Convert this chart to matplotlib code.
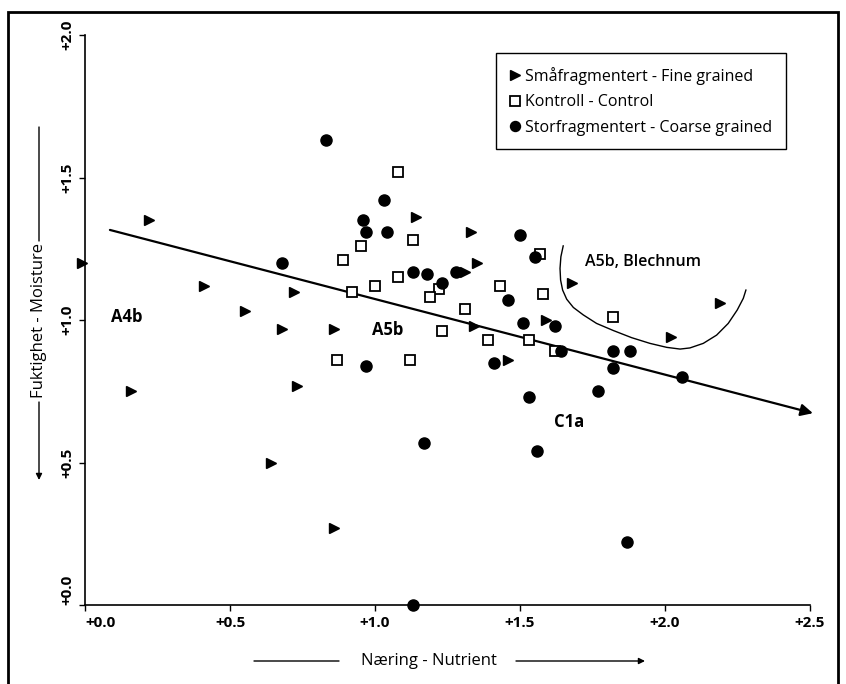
import matplotlib
matplotlib.use('Agg')
import matplotlib.pyplot as plt
from matplotlib.patches import Rectangle

plt.rcParams['font.family'] = ['Open Sans', 'DejaVu Sans']

# ---------------- data ----------------
fine_x = [-0.01, 0.22, 0.16, 0.41, 0.55, 0.64, 0.68, 0.72, 0.73, 0.86, 0.86,
          1.14, 1.33, 1.35, 1.31, 1.34, 1.46, 1.59, 1.68, 2.02, 2.19]
fine_y = [1.20, 1.35, 0.75, 1.12, 1.03, 0.50, 0.97, 1.10, 0.77, 0.97, 0.27,
          1.36, 1.31, 1.20, 1.17, 0.98, 0.86, 1.00, 1.13, 0.94, 1.06]

control_x = [0.95, 0.89, 1.00, 0.92, 0.87, 1.08, 1.13, 1.57, 1.08, 1.22,
             1.19, 1.43, 1.58, 1.31, 1.23, 1.39, 1.53, 1.12, 1.82, 1.62]
control_y = [1.26, 1.21, 1.12, 1.10, 0.86, 1.52, 1.28, 1.23, 1.15, 1.11,
             1.08, 1.12, 1.09, 1.04, 0.96, 0.93, 0.93, 0.86, 1.01, 0.89]

coarse_x = [0.83, 0.96, 0.97, 0.68, 0.97, 1.03, 1.04, 1.50, 1.55, 1.13,
            1.18, 1.28, 1.23, 1.46, 1.51, 1.41, 1.53, 1.62, 1.64, 1.82,
            1.88, 1.82, 2.06, 1.77, 1.56, 1.17, 1.87, 1.13]
coarse_y = [1.63, 1.35, 1.31, 1.20, 0.84, 1.42, 1.31, 1.30, 1.22, 1.17,
            1.16, 1.17, 1.13, 1.07, 0.99, 0.85, 0.73, 0.98, 0.89, 0.89,
            0.89, 0.83, 0.80, 0.75, 0.54, 0.57, 0.22, 0.00]

trend_x = [0.086, 2.51]
trend_y = [1.316, 0.673]

blechnum_x = [1.649, 1.641, 1.638, 1.640, 1.647, 1.661, 1.684, 1.718, 1.764,
              1.822, 1.885, 1.948, 2.006, 2.052, 2.086, 2.132, 2.178, 2.218,
              2.249, 2.270, 2.279]
blechnum_y = [1.260, 1.222, 1.181, 1.140, 1.105, 1.073, 1.044, 1.018, 0.988,
              0.963, 0.938, 0.918, 0.904, 0.898, 0.902, 0.918, 0.947, 0.988,
              1.035, 1.076, 1.105]

region_labels = ['A4b', 'A5b', 'A5b, Blechnum', 'C1a']
region_x = [0.143, 1.043, 1.924, 1.669]
region_y = [1.009, 0.965, 1.205, 0.643]

xticks = [0.0, 0.5, 1.0, 1.5, 2.0, 2.5]
xtick_labels = ['+0.0', '+0.5', '+1.0', '+1.5', '+2.0', '+2.5']
yticks = [0.0, 0.5, 1.0, 1.5, 2.0]
ytick_labels = ['+0.0', '+0.5', '+1.0', '+1.5', '+2.0']

legend_labels = ['Småfragmentert - Fine grained',
                 'Kontroll - Control',
                 'Storfragmentert - Coarse grained']
xlabel = 'Næring - Nutrient'
ylabel = 'Fuktighet - Moisture'

# ---------------- figure ----------------
W, H = 846, 684
fig = plt.figure(figsize=(W / 100, H / 100), dpi=100)
ax = fig.add_axes([85 / W, 1 - 605 / H, 725 / W, 570 / H])
ax.set_xlim(0, 2.5)
ax.set_ylim(0, 2.0)

for s in ['top', 'right']:
    ax.spines[s].set_visible(False)
for s in ['left', 'bottom']:
    ax.spines[s].set_linewidth(1.2)

ax.set_xticks(xticks)
ax.set_xticklabels(xtick_labels, fontsize=11, fontweight='bold')
ax.set_yticks(yticks)
ax.set_yticklabels(ytick_labels, fontsize=11, fontweight='bold',
                   rotation=90, va='center')
ax.tick_params(direction='out', length=4, width=1.0, pad=4)
ax.get_xticklabels()[0].set_ha('left')
ax.get_yticklabels()[0].set_va('bottom')

# trend arrow
ax.annotate('', xy=(trend_x[1], trend_y[1]), xytext=(trend_x[0], trend_y[0]),
            arrowprops=dict(arrowstyle='-|>', lw=1.6, color='black',
                            mutation_scale=18, shrinkA=0, shrinkB=0),
            annotation_clip=False, zorder=2)

# blechnum region curve
ax.plot(blechnum_x, blechnum_y, color='black', lw=1.0, zorder=2)

h1, = ax.plot(fine_x, fine_y, linestyle='none', marker='>', ms=7.5,
              color='black', clip_on=False, zorder=4)
h2, = ax.plot(control_x, control_y, linestyle='none', marker='s', ms=7.5,
              mfc='white', mec='black', mew=1.3, clip_on=False, zorder=3)
h3, = ax.plot(coarse_x, coarse_y, linestyle='none', marker='o', ms=8,
              color='black', clip_on=False, zorder=4)

for lab, x, y in zip(region_labels, region_x, region_y):
    ax.text(x, y, lab, fontsize=12 if lab != 'A5b, Blechnum' else 11.5,
            fontweight='bold' if lab != 'A5b, Blechnum' else 'semibold',
            ha='center', va='center', zorder=5)

leg = ax.legend([h1, h2, h3], legend_labels, loc='upper right',
                bbox_to_anchor=(786 / W, 1 - 53 / H),
                bbox_transform=fig.transFigure,
                fontsize=11.5, frameon=True, fancybox=False, framealpha=1,
                edgecolor='black', borderpad=0.85, handlelength=0.7,
                handletextpad=0.3, labelspacing=0.6, borderaxespad=0,
                markerscale=0.9)
leg.get_frame().set_linewidth(1.0)


def fp(x, y):
    return (x, H - y)


# y label with lines and arrow
fig.text(39 / W, 1 - 321 / H, ylabel, rotation=90, ha='center', va='center',
         fontsize=12)
ax.annotate('', xy=fp(39, 127), xytext=fp(39, 241), xycoords='figure pixels',
            textcoords='figure pixels',
            arrowprops=dict(arrowstyle='-', lw=1.0, color='black',
                            shrinkA=0, shrinkB=0), annotation_clip=False)
ax.annotate('', xy=fp(39, 480), xytext=fp(39, 402), xycoords='figure pixels',
            textcoords='figure pixels',
            arrowprops=dict(arrowstyle='-|>', lw=1.0, color='black',
                            mutation_scale=9, shrinkA=0, shrinkB=0),
            annotation_clip=False)

# x label with lines and arrow
fig.text(429 / W, 1 - 661 / H, xlabel, ha='center', va='center', fontsize=12)
ax.annotate('', xy=fp(254, 661), xytext=fp(339, 661), xycoords='figure pixels',
            textcoords='figure pixels',
            arrowprops=dict(arrowstyle='-', lw=1.0, color='black',
                            shrinkA=0, shrinkB=0), annotation_clip=False)
ax.annotate('', xy=fp(645, 661), xytext=fp(516, 661), xycoords='figure pixels',
            textcoords='figure pixels',
            arrowprops=dict(arrowstyle='-|>', lw=1.0, color='black',
                            mutation_scale=9, shrinkA=0, shrinkB=0),
            annotation_clip=False)

# outer frame
fig.patches.append(Rectangle((8 / W, -0.02), (838 - 8) / W, 1.02 - 12 / H,
                             transform=fig.transFigure, fill=False,
                             edgecolor='black', lw=2.0, clip_on=False))

fig.savefig('out.png', dpi=100)
